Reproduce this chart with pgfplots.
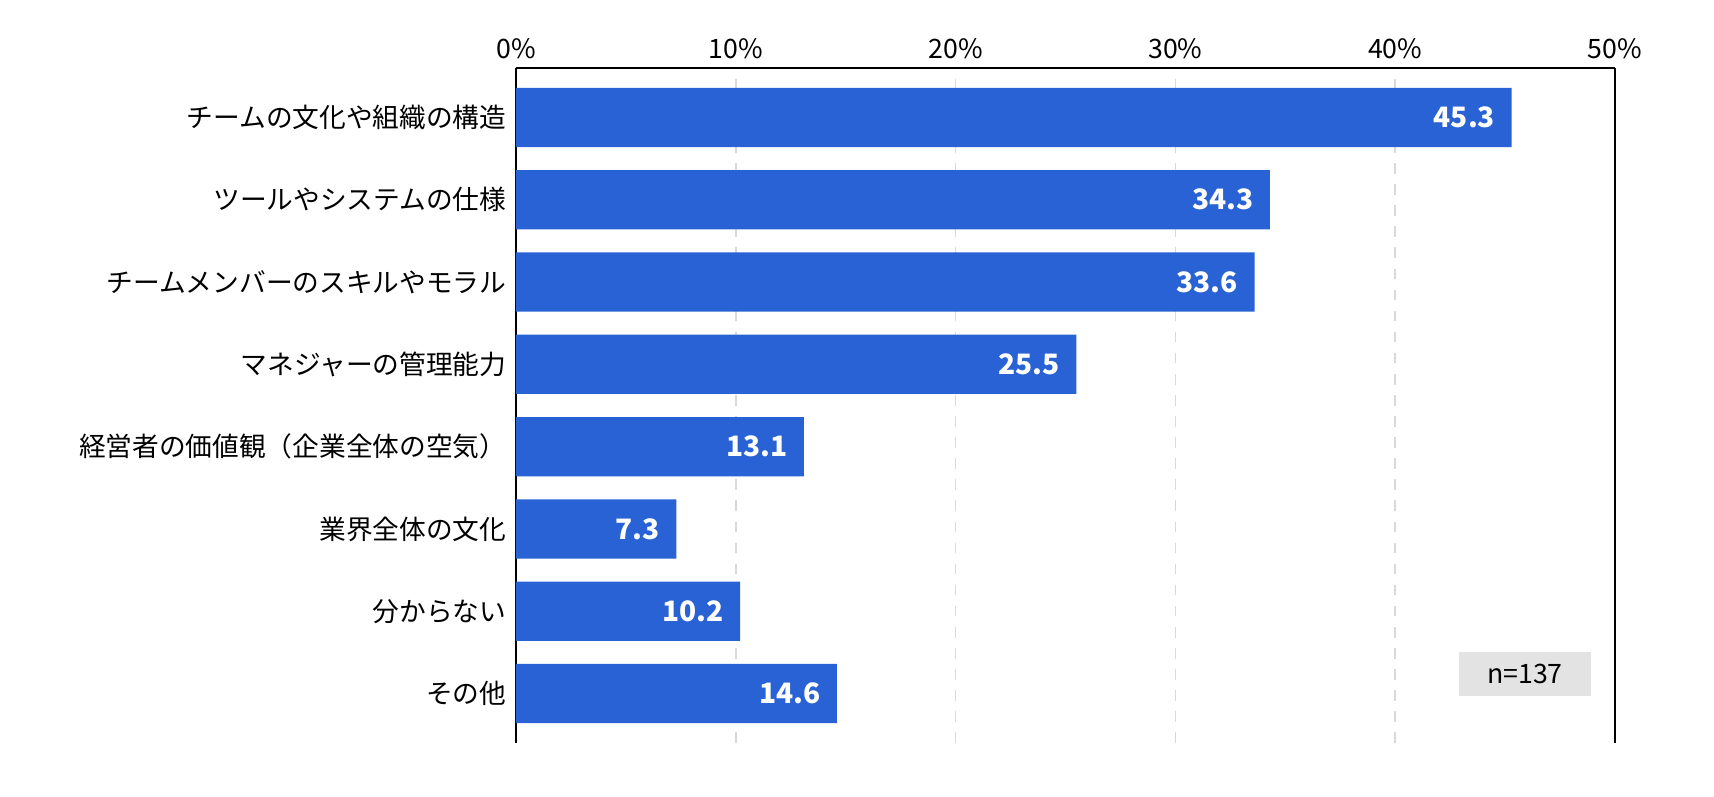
\documentclass[border=0pt]{standalone}
\usepackage{pgfplots}
\pgfplotsset{compat=1.18}
\usepackage{fontspec}
\setmainfont{Noto Sans CJK JP}
\definecolor{barblue}{HTML}{2962D4}
\begin{document}
\fontsize{7.6}{9}\selectfont
\begin{tikzpicture}
\path[use as bounding box] (0,0) rectangle (17.14,7.96);
\begin{axis}[at={(5.16cm,0.53cm)},anchor=south west,
 width=10.99cm,height=6.75cm,scale only axis,
 xbar,bar width=0.72,
 xmin=0,xmax=50,ymin=-0.6,ymax=7.6,
 axis x line*=top, xtick={0,10,...,50}, xticklabel={\pgfmathprintnumber{\tick}\%},
 /pgf/number format/assume math mode=true,
 xmajorgrids, grid style={dashed,gray!30},
 ytick={0,...,7}, yticklabels={その他,分からない,業界全体の文化,経営者の価値観（企業全体の空気）,マネジャーの管理能力,チームメンバーのスキルやモラル,ツールやシステムの仕様,チームの文化や組織の構造},
 major tick length=0pt, axis line style={black,thin},
 tick label style={font=\fontsize{7.6}{9}\selectfont},
 nodes near coords, nodes near coords style={anchor=east,white,font=\fontsize{8}{9}\selectfont\bfseries,xshift=-2pt},
 point meta=explicit symbolic,
]
\addplot[fill=barblue,draw=none] coordinates {
(14.6,0) [14.6] (10.2,1) [10.2] (7.3,2) [7.3] (13.1,3) [13.1]
(25.5,4) [25.5] (33.6,5) [33.6] (34.3,6) [34.3] (45.3,7) [45.3]};
\draw[draw=none,fill=gray!22] (axis cs:42.9,-0.03) rectangle (axis cs:48.9,0.5);
\node at (axis cs:45.9,0.235) {n=137};
\end{axis}
\end{tikzpicture}
\end{document}
